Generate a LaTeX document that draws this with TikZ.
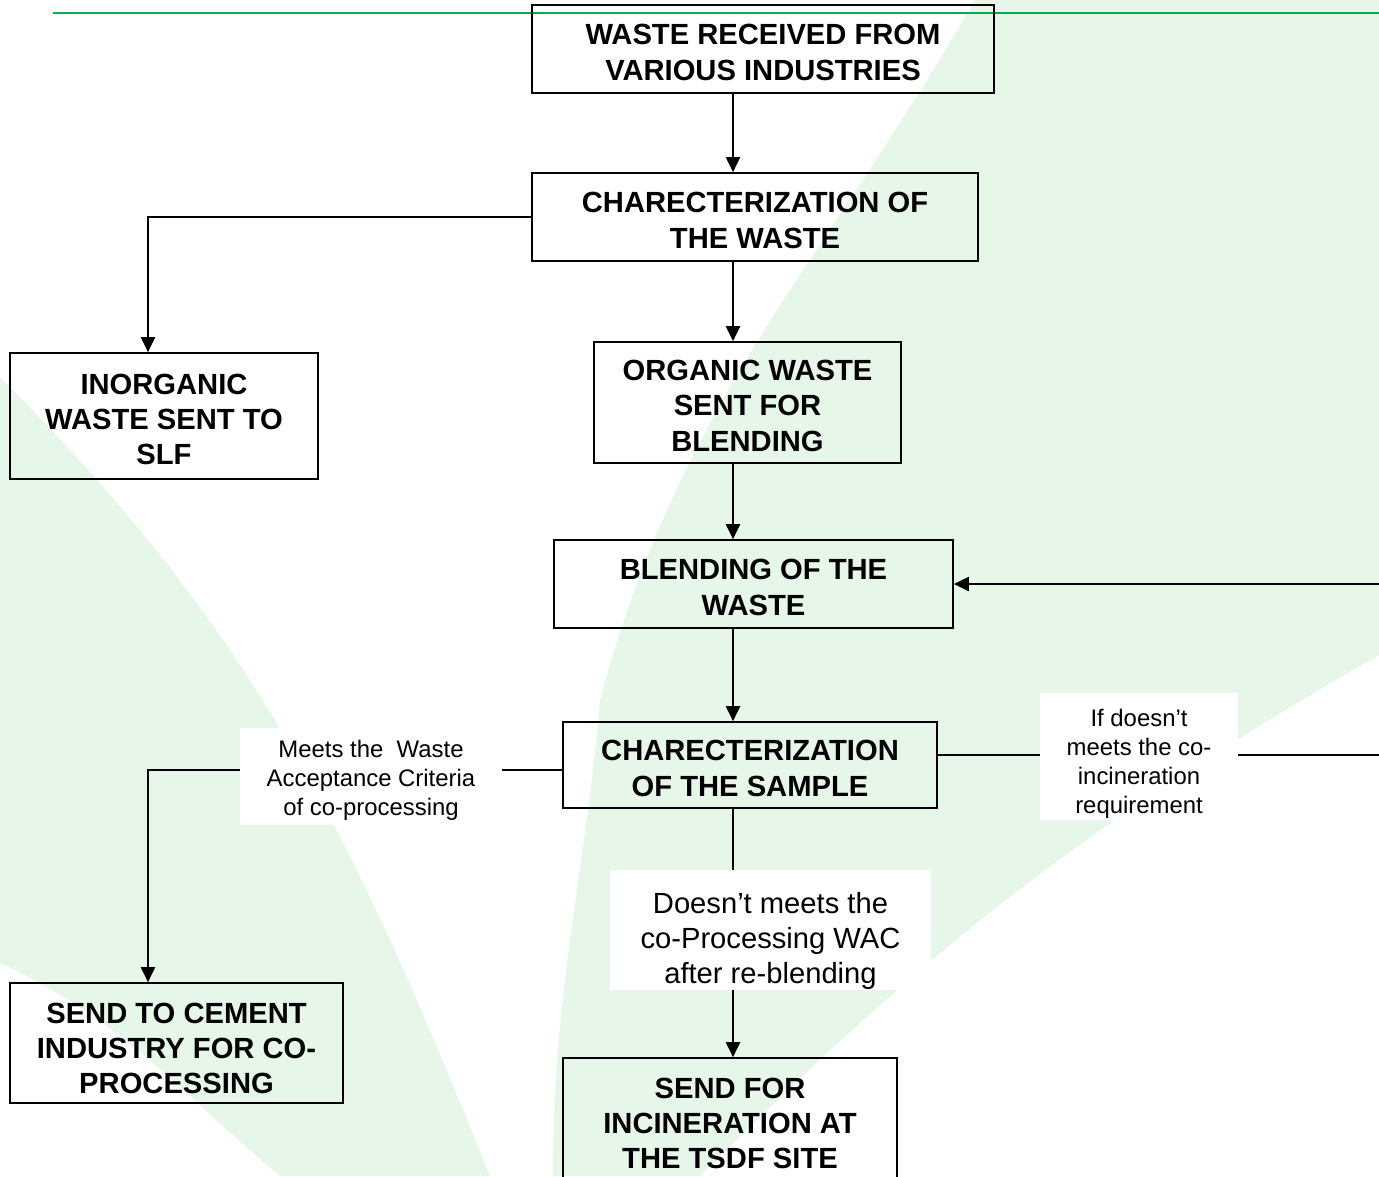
\documentclass[tikz,border=0pt]{standalone}
\usepackage{fontspec}
\setmainfont{Liberation Sans}
\usetikzlibrary{arrows.meta}
\definecolor{leafgreen}{RGB}{230,246,233}
\definecolor{rulegreen}{RGB}{0,176,80}

\begin{document}
\begin{tikzpicture}[box/.style={draw=black, line width=1pt, align=center, inner sep=0pt, font=\fontsize{16.6}{20}\selectfont\bfseries, text height=#1, text depth=0pt},
	lbl/.style={fill=white, align=center, inner sep=0pt, font=\fontsize{13.6}{16.5}\selectfont, text height=#1, text depth=0pt},
	arr/.style={draw=black, line width=1pt, -{Triangle[length=8.5pt,width=8pt]}},
	con/.style={draw=black, line width=1pt}]
			\useasboundingbox (0,0) rectangle (27.58,-23.52);
			\clip (0,0) rectangle (27.58,-23.52);
			\fill[leafgreen] (19.5,0) to[out=-120,in=75] (12.0,-14) to[out=-95,in=90] (11.06,-23.52) -- (14,-23.52) to[out=45,in=-150] (27.58,-13.1) -- (27.58,0) -- cycle;
			\fill[leafgreen] (0,-7.54) to[out=-45,in=112] (9.8,-23.52) -- (5.6,-23.52) to[out=140,in=-25] (0,-19.26) -- cycle;
			\draw[rulegreen, line width=1.4pt] (1.06,-0.26) -- (27.58,-0.26);
			
			\coordinate (spine) at (14.66,0);
			\coordinate (rt) at (28,0);
			
			\node[box=35.3pt, minimum width=9.24cm, minimum height=1.76cm] (recv) at (15.26,-0.98){WASTE RECEIVED FROM\\VARIOUS INDUSTRIES};
			\node[box=35.3pt, minimum width=8.92cm, minimum height=1.76cm] (charw) at (15.10,-4.34){CHARECTERIZATION OF\\THE WASTE};
			\node[box=55.3pt, minimum width=6.16cm, minimum height=2.52cm] (inorg) at (3.28,-8.32){INORGANIC\\WASTE SENT TO\\SLF};
			\node[box=55.3pt, minimum width=6.14cm, minimum height=2.42cm] (org) at (14.95,-8.05){ORGANIC WASTE\\SENT FOR\\BLENDING};
			\node[box=35.3pt, minimum width=7.98cm, minimum height=1.76cm] (blend) at (15.07,-11.68){BLENDING OF THE\\WASTE};
			\node[box=35.3pt, minimum width=7.48cm, minimum height=1.72cm] (samp) at (15.00,-15.30){CHARECTERIZATION\\OF THE SAMPLE};
			\node[box=57.6pt, minimum width=6.66cm, minimum height=2.40cm] (cem) at (3.53,-20.86){SEND TO CEMENT\\INDUSTRY FOR CO-\\PROCESSING};
			\node[box=57.6pt, minimum width=6.68cm, minimum height=2.40cm] (tsdf) at (14.60,-22.36){SEND FOR\\INCINERATION AT\\THE TSDF SITE};
			
			\path[arr] (recv.south -| spine) -- (charw.north -| spine);
			\path[arr] (charw.south -| spine) -- (org.north -| spine);
			\path[arr] (org.south -| spine) -- (blend.north -| spine);
			\path[arr] (blend.south -| spine) -- (samp.north -| spine);
			\path[arr] (samp.south -| spine) -- (tsdf.north -| spine);
			\path[arr] (charw.west) -| ([xshift=-0.32cm]inorg.north);
			\path[arr] ([yshift=-0.1cm]samp.west) -| ([xshift=-0.57cm]cem.north);
			\path[arr] ([yshift=0.2cm]samp.east) -- ([yshift=0.2cm]samp.east -| rt) -- (blend.east -| rt) -- (blend.east);
			
			\node[lbl=43.8pt, minimum width=5.24cm, minimum height=1.94cm] (meets) at (7.42,-15.53){Meets the~~Waste\\Acceptance Criteria\\of co-processing};
			\node[lbl=65.1pt, minimum width=3.96cm, minimum height=2.54cm] (ifnot) at (22.78,-15.13){If doesn’t\\meets the co-\\incineration\\requirement};
			\node[lbl=61.2pt, minimum width=6.42cm, minimum height=2.40cm, font=\fontsize{16.6}{20}\selectfont] (doesnt) at (15.41,-18.60){Doesn’t meets the\\co-Processing WAC\\after re-blending};
			\end{tikzpicture}
\end{document}
